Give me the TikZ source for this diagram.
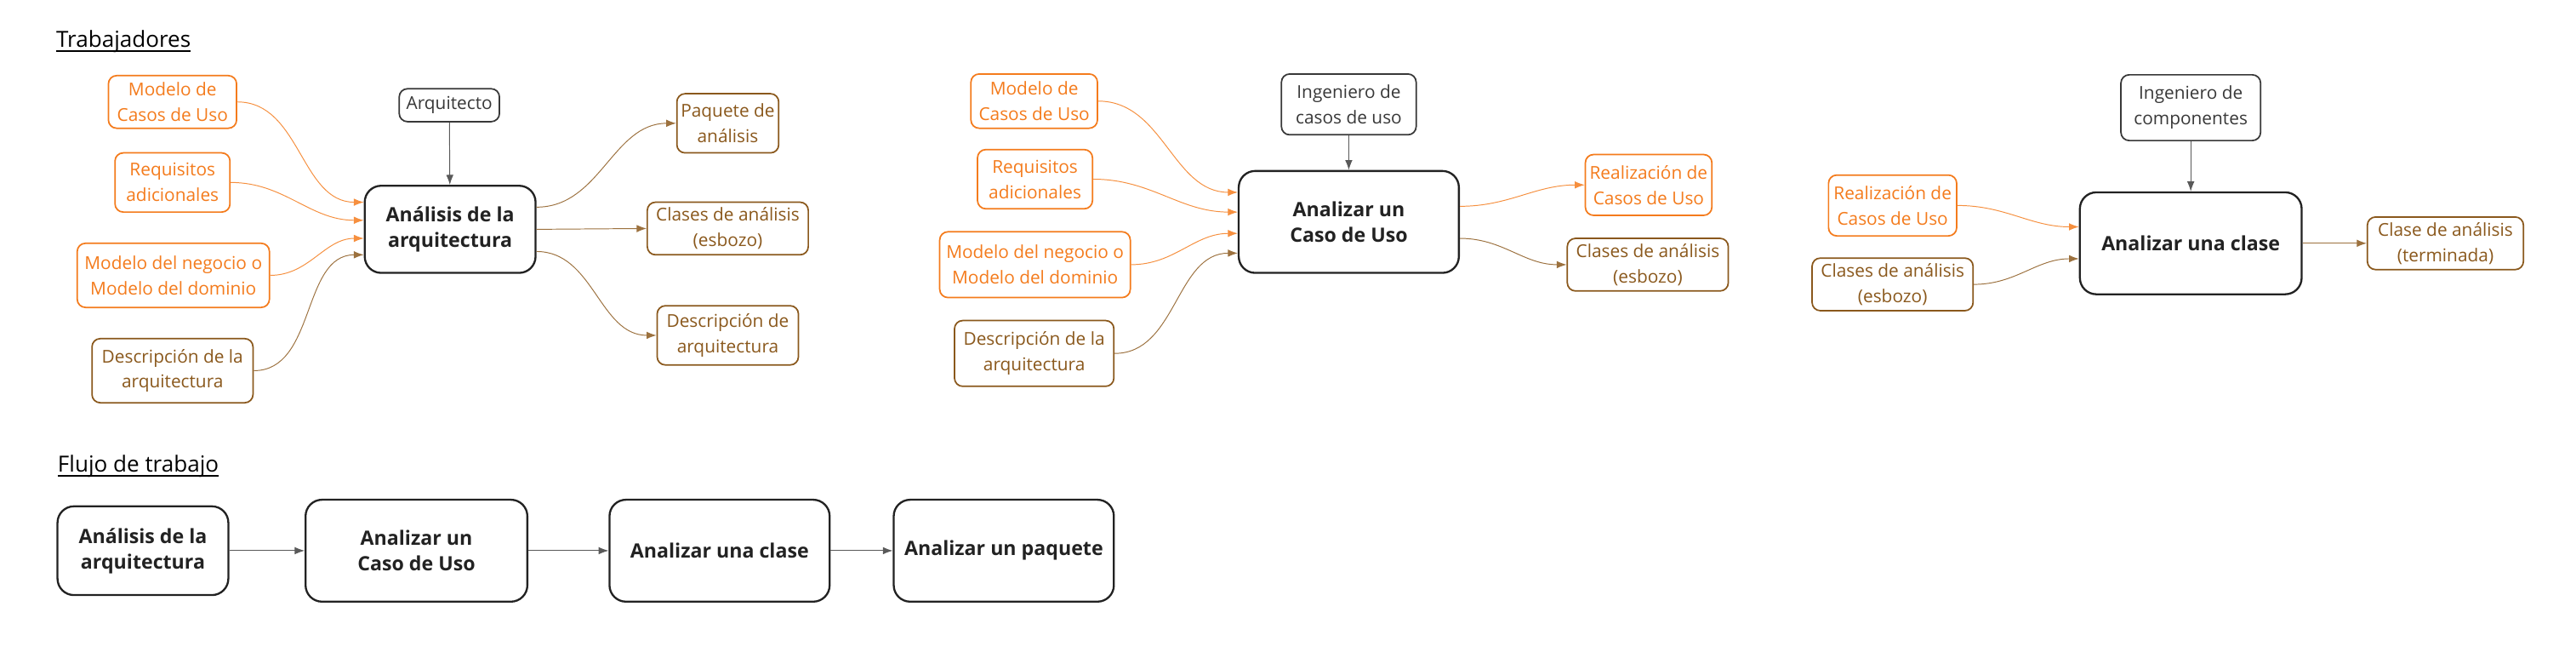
\documentclass[tikz,border=0pt]{standalone}
\usepackage{fontspec}
\setmainfont{Open Sans}
\usetikzlibrary{arrows.meta,calc}
\definecolor{org}{HTML}{F47B1C}
\definecolor{brn}{HTML}{8A581C}
\definecolor{dk}{HTML}{222222}
\newcommand{\myul}[1]{\setbox0\hbox{#1}\rlap{\rule[-3pt]{\wd0}{1.2pt}}\box0}
\begin{document}
\begin{tikzpicture}[x=1pt,y=-1pt,
  sz/.style 2 args={minimum width=#1pt, minimum height=#2pt},
  box/.style={draw, rounded corners=5pt, line width=0.9pt, align=center, inner sep=0pt, font=\fontsize{10.8}{15.5}\selectfont},
  obox/.style={box, draw=org, text=org},
  bbox/.style={box, draw=brn, text=brn},
  kbox/.style={box, draw=dk!90, text=dk!90},
  mbox/.style={draw=dk, rounded corners=10pt, line width=1.2pt, align=center, inner sep=0pt, text=dk, font=\fontsize{12}{15.5}\selectfont\bfseries},
  con/.style={line width=0.5pt, -{Latex[length=6pt,width=4.5pt]}},
  ocon/.style={con, draw=org!85},
  bcon/.style={con, draw=brn!85},
  kcon/.style={con, draw=dk!75},
  ttl/.style={anchor=base west, inner sep=0pt, text=black, font=\fontsize{13.5}{15}\selectfont},
]
\fill[white] (0,0) rectangle (1568,400);
\useasboundingbox (0,0) rectangle (1568,400);

% titles
\node[ttl] (t1) at (34,28.5) {\myul{Trabajadores}};
\node[ttl] (t2) at (35,287) {\myul{Flujo de trabajo}};

% ---------- section 1 ----------
\node[obox, sz={78}{32}] (mc1) at (105,62) {Modelo de\\Casos de Uso};
\node[obox, sz={70}{36}] (rq1) at (105,111) {Requisitos\\adicionales};
\node[obox, sz={117}{39}] (mn1) at (105.5,167.5) {Modelo del negocio o\\Modelo del dominio};
\node[bbox, sz={98}{39}] (da1) at (105,225.5) {Descripción de la\\arquitectura};
\node[kbox, sz={61}{20}] (arq) at (273.5,64) {Arquitecto};
\node[mbox, sz={104}{53}] (m1) at (274,139.5) {Análisis de la\\arquitectura};
\node[bbox, sz={62}{36}] (pa1) at (443,75) {Paquete de\\análisis};
\node[bbox, sz={98}{32}] (cl1) at (443,139) {Clases de análisis\\(esbozo)};
\node[bbox, sz={86}{36}] (de1) at (443,204) {Descripción de\\arquitectura};

\draw[kcon] (arq) -- (m1);
\draw[ocon] (mc1.east) to[out=0,in=180] ([yshift=16.5pt]m1.west);
\draw[ocon] (rq1.east) to[out=0,in=180] ([yshift=5.5pt]m1.west);
\draw[ocon] (mn1.east) to[out=0,in=180] ([yshift=-5.5pt]m1.west);
\draw[bcon] (da1.east) to[out=0,in=180] ([yshift=-15.5pt]m1.west);
\draw[bcon] ([yshift=13.5pt]m1.east) to[out=0,in=180] (pa1.west);
\draw[bcon] (m1.east) -- (cl1.west);
\draw[bcon] ([yshift=-13.5pt]m1.east) to[out=0,in=180] (de1.west);

% ---------- section 2 ----------
\node[obox, sz={77}{33}] (mc2) at (629.5,61.5) {Modelo de\\Casos de Uso};
\node[obox, sz={70}{36}] (rq2) at (630,109) {Requisitos\\adicionales};
\node[obox, sz={116}{40}] (mn2) at (630,161) {Modelo del negocio o\\Modelo del dominio};
\node[bbox, sz={97}{40}] (da2) at (629.5,215) {Descripción de la\\arquitectura};
\node[kbox, sz={82}{37}] (ing2) at (821,63.5) {Ingeniero de\\casos de uso};
\node[mbox, sz={134}{62}] (m2) at (821,135) {Analizar un\\Caso de Uso};
\node[obox, sz={77}{37}] (re2) at (1003.5,112.5) {Realización de\\Casos de Uso};
\node[bbox, sz={98}{32}] (cl2) at (1003,161) {Clases de análisis\\(esbozo)};

\draw[kcon] (ing2) -- (m2);
\draw[ocon] (mc2.east) to[out=0,in=180] ([yshift=18pt]m2.west);
\draw[ocon] (rq2.east) to[out=0,in=180] ([yshift=6pt]m2.west);
\draw[ocon] (mn2.east) to[out=0,in=180] ([yshift=-7pt]m2.west);
\draw[bcon] (da2.east) to[out=0,in=180] ([yshift=-19pt]m2.west);
\draw[ocon] ([yshift=9.5pt]m2.east) to[out=0,in=180] (re2.west);
\draw[bcon] ([yshift=-10pt]m2.east) to[out=0,in=180] (cl2.west);

% ---------- section 3 ----------
\node[kbox, sz={85}{40}] (ing3) at (1333.5,65.5) {Ingeniero de\\componentes};
\node[mbox, sz={135}{62}] (m3) at (1333.5,148) {Analizar una clase};
\node[obox, sz={78}{37}] (re3) at (1152,125) {Realización de\\Casos de Uso};
\node[bbox, sz={98}{32}] (cl3) at (1152,173) {Clases de análisis\\(esbozo)};
\node[bbox, sz={95}{32}] (ct3) at (1488.5,148) {Clase de análisis\\(terminada)};

\draw[kcon] (ing3) -- (m3);
\draw[ocon] (re3.east) to[out=0,in=180] ([yshift=10pt]m3.west);
\draw[bcon] (cl3.east) to[out=0,in=180] ([yshift=-9.4pt]m3.west);
\draw[bcon] (m3.east) -- (ct3.west);

% ---------- workflow ----------
\node[mbox, sz={104}{54}] (w1) at (87,335) {Análisis de la\\arquitectura};
\node[mbox, sz={135}{62}] (w2) at (253.5,335) {Analizar un\\Caso de Uso};
\node[mbox, sz={134}{62}] (w3) at (438,335) {Analizar una clase};
\node[mbox, sz={134}{62}] (w4) at (611,335) {Analizar un paquete};
\draw[kcon] (w1) -- (w2);
\draw[kcon] (w2) -- (w3);
\draw[kcon] (w3) -- (w4);
\end{tikzpicture}
\end{document}
